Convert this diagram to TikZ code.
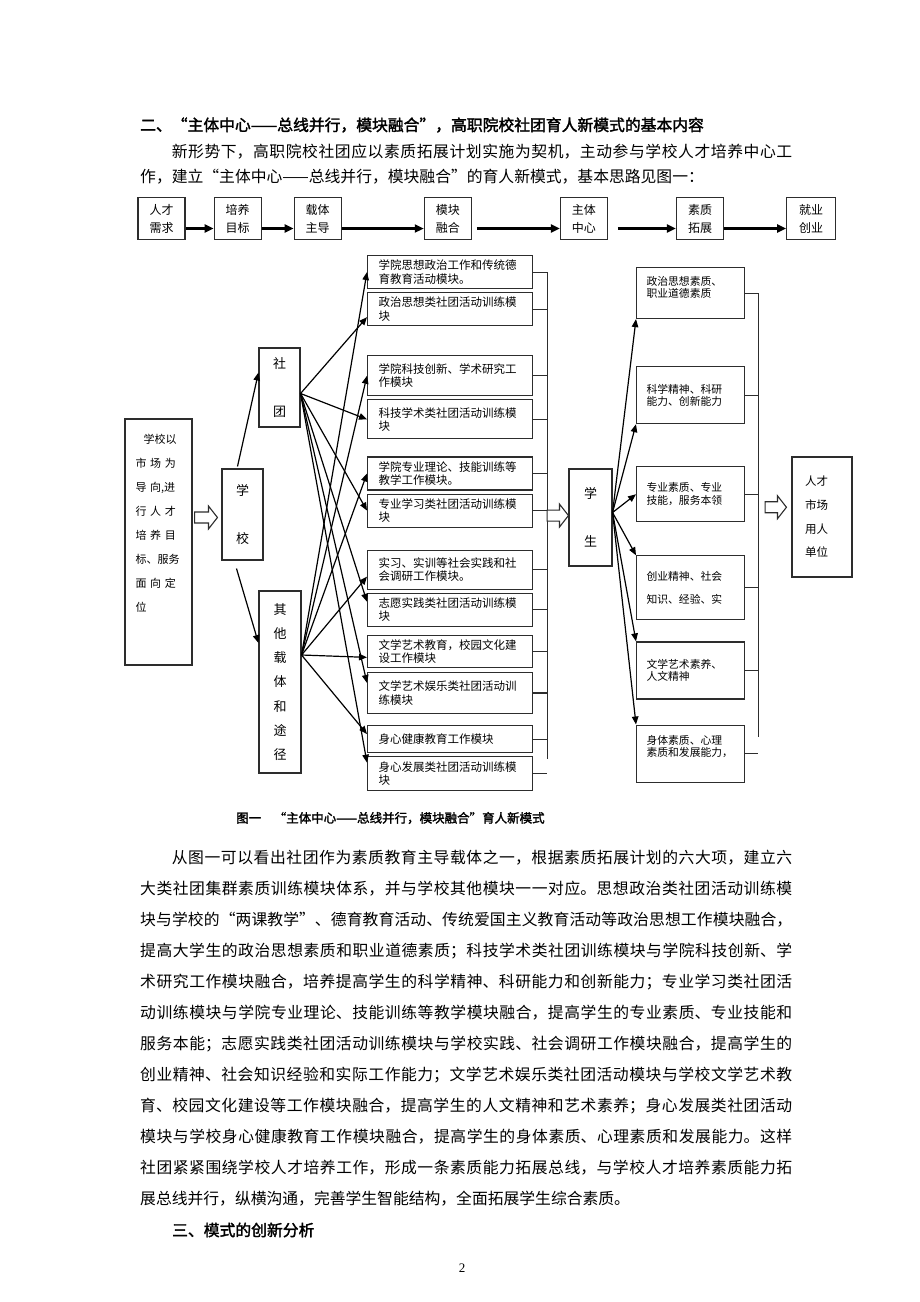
\documentclass[tikz,border=0pt]{standalone}
\usepackage{fontspec}
\setmainfont{Noto Sans CJK SC}[AutoFakeBold=2]
\newfontfamily\numfont{Liberation Serif}
\usetikzlibrary{positioning,calc,arrows.meta}
\XeTeXlinebreaklocale "zh"
\XeTeXlinebreakskip=0pt plus 2pt
\definecolor{frame}{RGB}{45,45,45}

% block arrow between two points (same height as the start point)
\newcommand{\hollowarrow}[2]{%
  \draw[hollow] let \p1=(#1), \p2=(#2) in
    (\x1,\y1+5.5pt) -- (\x2-9pt,\y1+5.5pt) -- (\x2-9pt,\y1+11.5pt) -- (\x2,\y1)
    -- (\x2-9pt,\y1-11.5pt) -- (\x2-9pt,\y1-5.5pt) -- (\x1,\y1-5.5pt) -- cycle;}

\begin{document}
\begin{tikzpicture}[
    x=1pt, y=-1pt,
    box/.style={draw=frame, line width=1.1pt, inner sep=0pt, align=center},
    flowbox/.style={box, minimum width=47pt, minimum height=42pt, font=\fontsize{12}{18}\selectfont},
    unitbox/.style={box, minimum width=41pt, font=\fontsize{13}{48}\selectfont},
    modbox/.style={box, minimum width=165pt, text width=143pt, align=left, font=\fontsize{11.5}{13.5}\selectfont},
    qualbox/.style={box, minimum width=108pt, text width=88pt, align=left, font=\fontsize{10.8}{12.5}\selectfont},
    arrow/.style={-{Triangle[length=8pt,width=6.5pt]}, line width=1.2pt},
    flowarrow/.style={-{Triangle[length=9pt,width=8pt]}, line width=2.2pt},
    hollow/.style={draw=frame, line width=1.1pt, fill=white},
    bus/.style={draw=frame, line width=1.1pt},
    body/.style={anchor=north west, inner sep=0pt, text width=652pt, align=justify}
]

\fill[white] (0,0) rectangle (920,1302);
\useasboundingbox (0,0) rectangle (920,1302);

% Heading and opening paragraph
\node[anchor=west, inner sep=0pt, font=\fontsize{15.8}{20}\selectfont\bfseries] (title) at (140,125)
  {二、“主体中心——总线并行，模块融合”，高职院校社团育人新模式的基本内容};
\node[body, font=\fontsize{15.8}{25}\selectfont] (intro) at (140,144)
  {\hspace*{2em}新形势下，高职院校社团应以素质拓展计划实施为契机，主动参与学校人才培养中心工\linebreak
   作，建立“主体中心——总线并行，模块融合”的育人新模式，基本思路见图一：};

% Top flow
\node[flowbox] (need) at (161.5,218.5) {人才\\需求};
\node[flowbox, right=28pt of need] (goal) {培养\\目标};
\node[flowbox, right=32pt of goal] (carrier) {载体\\主导};
\node[flowbox, right=82pt of carrier] (fusion) {模块\\融合};
\node[flowbox, right=88pt of fusion] (core) {主体\\中心};
\node[flowbox, right=68pt of core] (quality) {素质\\拓展};
\node[flowbox, minimum width=49pt, right=62pt of quality] (career) {就业\\创业};

\draw[flowarrow] ($(need.east)+(0,10)$) -- ($(goal.west)+(0,10)$);
\draw[flowarrow] ($(goal.east)+(0,10)$) -- ($(carrier.west)+(0,10)$);
\draw[flowarrow] ($(carrier.east)+(0,10)$) -- ($(fusion.west)+(0,10)$);
\draw[flowarrow, shorten <=5pt] ($(fusion.east)+(0,10)$) -- ($(core.west)+(0,10)$);
\draw[flowarrow, shorten <=10pt] ($(core.east)+(0,10)$) -- ($(quality.west)+(0,10)$);
\draw[flowarrow] ($(quality.east)+(0,10)$) -- ($(career.west)+(0,10)$);

% School side
\node[box, minimum width=67pt, minimum height=246pt, text width=46pt, align=left,
      font=\fontsize{11}{24}\selectfont] (orient) at (158.5,542)
  {\hspace*{8pt}学校以\\
   \makebox[44pt][s]{市 场 为}\\
   \makebox[44pt][s]{导 向,进}\\
   \makebox[44pt][s]{行 人 才}\\
   \makebox[44pt][s]{培 养 目}\\
   标、服务\\
   \makebox[44pt][s]{面 向 定}\\
   位\\[14pt]\mbox{}};
\node[unitbox, minimum height=91pt] (school) at (242.5,514.5) {学\\校};
\node[unitbox, minimum height=79pt] (club) at (279.5,387.5) {社\\团};
\node[unitbox, minimum width=42pt, minimum height=182pt, font=\fontsize{13}{24.3}\selectfont] (other) at (280,682)
  {其\\他\\载\\体\\和\\途\\径};

\hollowarrow{$(orient.east|-school.west)+(2,3)$}{$(school.west)+(-4,3)$}
\draw[arrow] ($(school.north)+(-5,-2)$) -- ($(club.west)+(0,-15)$);
\draw[arrow] ($(school.south)+(-6,8)$) -- ($(other.west)+(0,-39)$);

% Modules
\node[modbox, minimum height=33pt, anchor=north west] (m1) at (367,255) {学院思想政治工作和传统德\\育教育活动模块。};
\node[modbox, minimum height=33pt, below=3pt of m1] (m2) {政治思想类社团活动训练模\\块};
\node[modbox, minimum height=40pt, below=29pt of m2] (m3) {学院科技创新、学术研究工\\作模块};
\node[modbox, minimum height=39pt, below=3pt of m3] (m4) {科技学术类社团活动训练模\\块};
\node[modbox, minimum height=33pt, below=17pt of m4] (m5) {学院专业理论、技能训练等\\教学工作模块。};
\node[modbox, minimum height=33pt, below=3pt of m5] (m6) {专业学习类社团活动训练模\\块};
\node[modbox, minimum height=39pt, below=22pt of m6] (m7) {实习、实训等社会实践和社\\会调研工作模块。};
\node[modbox, minimum height=33pt, below=3pt of m7] (m8) {志愿实践类社团活动训练模\\块};
\node[modbox, minimum height=32pt, below=8pt of m8] (m9) {文学艺术教育，校园文化建\\设工作模块};
\node[modbox, minimum height=41pt, below=4pt of m9] (m10) {文学艺术娱乐类社团活动训\\练模块};
\node[modbox, minimum height=27pt, below=11pt of m10] (m11) {身心健康教育工作模块};
\node[modbox, minimum height=34pt, below=3pt of m11] (m12) {身心发展类社团活动训练模\\块};

% club fan
\coordinate (clubout) at ($(club.east)+(0,6)$);
\draw[arrow] (clubout) -- ($(m2.west)+(0,8)$);
\draw[arrow] (clubout) -- (m4.west);
\draw[arrow] (clubout) -- (m6.west);
\draw[arrow] (clubout) -- ($(m8.west)+(0,-8)$);
\draw[arrow] (clubout) -- ($(m10.west)+(0,-10)$);
\draw[arrow] (clubout) -- ($(m12.west)+(0,-11)$);

% other fan
\coordinate (otherout) at ($(other.east)+(0,-27)$);
\draw[arrow] (otherout) -- (m1.west);
\draw[arrow] (otherout) -- (m3.west);
\draw[arrow] (otherout) -- (m5.west);
\draw[arrow] (otherout) -- ($(m7.west)+(0,7)$);
\draw[arrow] (otherout) -- ($(m9.west)+(0,6)$);
\draw[arrow] (otherout) -- ($(m11.west)+(0,-5)$);

% module bus
\draw[bus] (m1.east) -- ++(14,0);
\draw[bus] (m2.east) -- ++(14,0);
\draw[bus] (m3.east) -- ++(14,0);
\draw[bus] (m4.east) -- ++(14,0);
\draw[bus] (m5.east) -- ++(14,0);
\draw[bus] (m6.east) -- ++(14,0);
\draw[bus] (m7.east) -- ++(14,0);
\draw[bus] (m8.east) -- ++(14,0);
\draw[bus] (m9.east) -- ++(14,0);
\draw[bus] (m10.east) -- ++(14,0);
\draw[bus] (m11.east) -- ++(14,0);
\draw[bus] (m12.east) -- ++(14,0);
\draw[bus] ($(m1.east)+(14,0)$) -- ($(m11.east)+(14,20)$);
\coordinate (midbus) at ($(m6.east)+(14,5)$);

% Student
\node[unitbox, minimum width=43pt, minimum height=97pt] (student) at (590.5,517.5) {学\\生};
\hollowarrow{midbus}{$(student.west)+(0,-8)$}

% Qualities
\node[qualbox, minimum height=51pt, anchor=north west] (r1) at (636,267) {政治思想素质、\\职业道德素质\\\mbox{}};
\node[qualbox, minimum height=57pt, below=47pt of r1] (r2) {科学精神、科研\\能力、创新能力};
\node[qualbox, minimum height=55pt, below=42pt of r2] (r3) {专业素质、专业\\技能，服务本领};
\node[qualbox, minimum height=64pt, below=33pt of r3] (r4) {创业精神、社会\\[11pt]知识、经验、实};
\node[qualbox, minimum height=57pt, below=21pt of r4] (r5) {文学艺术素养、\\人文精神};
\node[qualbox, minimum height=57pt, below=25pt of r5] (r6) {身体素质、心理\\素质和发展能力，\\[3pt]\mbox{}};

\coordinate (studout) at ($(student.east)+(0,-5)$);
\draw[arrow] (studout) -- (r1.south west);
\draw[arrow] (studout) -- (r2.south west);
\draw[arrow] (studout) -- (r3.west);
\draw[arrow] (studout) -- (r4.north west);
\draw[arrow] (studout) -- (r5.north west);
\draw[arrow] (studout) -- (r6.north west);

% quality bus
\draw[bus] (r1.east) -- ++(13,0);
\draw[bus] (r2.east) -- ++(13,0);
\draw[bus] (r3.east) -- ++(13,0);
\draw[bus] (r4.east) -- ++(13,0);
\draw[bus] (r5.east) -- ++(13,0);
\draw[bus] (r6.east) -- ++(13,0);
\draw[bus] ($(r1.east)+(13,0)$) -- ($(r5.east)+(13,67)$);
\coordinate (rightbus) at ($(r3.east)+(13,0)$);

% Employers
\node[box, minimum width=60pt, minimum height=120pt, text width=34pt, align=left,
      font=\fontsize{11.5}{23.7}\selectfont] (market) at (822,517) {人才\\市场\\用人\\单位};
\hollowarrow{$(rightbus)+(7,13)$}{$(market.west)+(-5,-12)$}

% Caption and following text
\node[anchor=west, inner sep=0pt, font=\fontsize{12.5}{15}\selectfont\bfseries] (caption) at (236,818)
  {图一\quad “主体中心——总线并行，模块融合”育人新模式};
\node[body, font=\fontsize{15.8}{31}\selectfont] (text) at (140,850)
  {\hspace*{2em}从图一可以看出社团作为素质教育主导载体之一，根据素质拓展计划的六大项，建立六\linebreak
   大类社团集群素质训练模块体系，并与学校其他模块一一对应。思想政治类社团活动训练模\linebreak
   块与学校的“两课教学”、德育教育活动、传统爱国主义教育活动等政治思想工作模块融合，\linebreak
   提高大学生的政治思想素质和职业道德素质；科技学术类社团训练模块与学院科技创新、学\linebreak
   术研究工作模块融合，培养提高学生的科学精神、科研能力和创新能力；专业学习类社团活\linebreak
   动训练模块与学院专业理论、技能训练等教学模块融合，提高学生的专业素质、专业技能和\linebreak
   服务本能；志愿实践类社团活动训练模块与学校实践、社会调研工作模块融合，提高学生的\linebreak
   创业精神、社会知识经验和实际工作能力；文学艺术娱乐类社团活动模块与学校文学艺术教\linebreak
   育、校园文化建设等工作模块融合，提高学生的人文精神和艺术素养；身心发展类社团活动\linebreak
   模块与学校身心健康教育工作模块融合，提高学生的身体素质、心理素质和发展能力。这样\linebreak
   社团紧紧围绕学校人才培养工作，形成一条素质能力拓展总线，与学校人才培养素质能力拓\linebreak
   展总线并行，纵横沟通，完善学生智能结构，全面拓展学生综合素质。};
\node[anchor=west, inner sep=0pt, font=\fontsize{15.8}{20}\selectfont\bfseries] (next) at (172,1230)
  {三、模式的创新分析};
\node[font=\numfont\fontsize{13}{15}\selectfont] (page) at (462,1268) {2};

\end{tikzpicture}
\end{document}
